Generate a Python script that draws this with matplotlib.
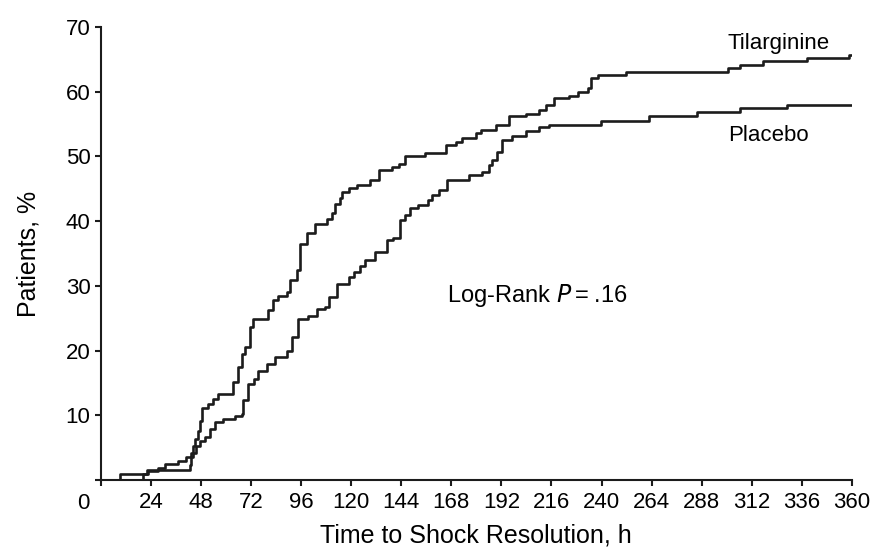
import matplotlib
matplotlib.use("Agg")
import matplotlib.pyplot as plt

# ---- data (hours, cumulative % with shock resolved) ----
tila_h = [0, 9, 22, 42.6, 43.4, 44.2, 45.0, 46.6, 47.4, 48.2, 51.4, 53.8, 56.3,
          63.5, 65.9, 67.5, 69.1, 71.5, 73.1, 80.3, 82.7, 85.1, 89.1, 90.7, 93.9,
          95.5, 98.7, 102.7, 108.3, 110.7, 112.4, 114.8, 115.5, 118.8, 122.7,
          129.2, 133.2, 139.6, 142.8, 146.0, 155.6, 165.2, 170.0, 173.2, 179.7,
          182.0, 189.3, 195.7, 203.7, 210.0, 213.3, 217.3, 224.5, 228.5, 233.3,
          235.0, 238.1, 251.8, 300.6, 306.3, 317.5, 338.3, 358.5, 360]
tila_pct = [0, 1.0, 1.5, 2.4, 3.5, 5.3, 6.3, 7.6, 9.1, 11.2, 11.7, 12.5, 13.3,
            15.1, 17.4, 19.5, 20.5, 23.6, 24.9, 26.2, 27.8, 28.5, 29.0, 30.9, 32.4,
            36.5, 38.1, 39.5, 40.3, 41.2, 42.7, 43.5, 44.5, 45.1, 45.6,
            46.4, 47.9, 48.4, 48.9, 50.0, 50.5, 51.8, 52.3, 52.8, 53.6,
            54.1, 54.9, 56.2, 56.5, 57.2, 58.0, 59.0, 59.3, 60.0, 60.6,
            62.1, 62.6, 63.1, 63.7, 64.2, 64.7, 65.2, 65.6, 65.6]

plac_h = [0, 20.2, 22.6, 27.4, 30.6, 37.0, 41.0, 43.4, 45.8, 47.4, 49.9, 52.3,
          54.7, 58.7, 64.3, 67.5, 68.3, 70.7, 73.5, 75.5, 79.5, 83.5, 89.1, 91.5,
          94.7, 99.5, 103.5, 107.5, 109.1, 113.1, 118.8, 121.5, 124.4, 126.8,
          131.6, 137.2, 140.0, 143.6, 146.0, 148.4, 152.0, 157.0, 158.8, 162.0,
          166.0, 176.4, 182.8, 186.0, 187.6, 190.0, 192.4, 197.3, 203.7, 210.1,
          214.9, 239.8, 263.0, 286.0, 306.3, 328.8, 360]
plac_pct = [0, 1.0, 1.4, 1.9, 2.5, 3.0, 3.5, 4.2, 5.3, 6.0, 6.6, 7.9,
            8.9, 9.4, 9.9, 10.2, 12.3, 14.8, 15.6, 16.9, 18.0, 19.0, 20.0, 22.1,
            24.9, 25.4, 26.5, 26.7, 28.3, 30.3, 31.4, 32.2, 33.0, 34.0,
            35.2, 37.1, 37.4, 40.2, 40.9, 42.0, 42.5, 43.3, 44.0, 44.8,
            46.4, 47.1, 47.6, 48.7, 49.5, 50.7, 52.6, 53.1, 53.9, 54.6,
            54.9, 55.4, 56.3, 56.9, 57.5, 58.0, 58.0]

x_ticks = list(range(0, 361, 24))
y_ticks = [0, 10, 20, 30, 40, 50, 60, 70]

plt.rcParams['font.family'] = ['Liberation Sans', 'DejaVu Sans']

fig = plt.figure(figsize=(8.72, 5.48), dpi=100)
ax = fig.add_axes([0.1158, 0.124, 0.861, 0.8268])

line_c = "#1c1c1c"
ax.plot(tila_h, tila_pct, drawstyle="steps-post", color=line_c, lw=1.9)
ax.plot(plac_h, plac_pct, drawstyle="steps-post", color=line_c, lw=1.9)

ax.set_xlim(0, 360)
ax.set_ylim(0, 70)
ax.set_xticks(x_ticks)
ax.set_xticklabels([""] + [str(t) for t in x_ticks[1:]])
ax.set_yticks(y_ticks)
ax.set_yticklabels([""] + [str(t) for t in y_ticks[1:]])

for s in ["top", "right"]:
    ax.spines[s].set_visible(False)
for s in ["left", "bottom"]:
    ax.spines[s].set_linewidth(1.5)
    ax.spines[s].set_color(line_c)
ax.tick_params(axis="both", direction="out", length=4.5, width=1.5,
               color=line_c, labelsize=16)
ax.tick_params(axis="x", pad=4)
ax.tick_params(axis="y", pad=3)

# the "0" sits left of the origin
ax.annotate("0", xy=(0, 0), xycoords="data", xytext=(-12.5, -17),
            textcoords="offset points", ha="center", va="center", fontsize=16)

ax.set_xlabel("Time to Shock Resolution, h", fontsize=18, labelpad=8)
ax.set_ylabel("Patients, %", fontsize=18, labelpad=18)

ax.text(300.5, 67.5, "Tilarginine", fontsize=16, ha="left", va="center")
ax.text(300.5, 53.2, "Placebo", fontsize=16, ha="left", va="center")
ax.text(166, 28.5, "Log-Rank $\\it{P}$\u2009=\u2009.16", fontsize=17,
        ha="left", va="center")

fig.savefig("out.png", dpi=100)
